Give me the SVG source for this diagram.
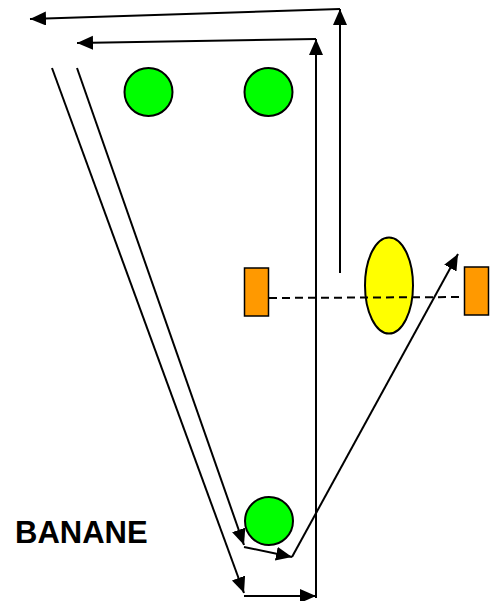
<svg xmlns="http://www.w3.org/2000/svg" width="492" height="601" viewBox="0 0 492 601">
<style>
.c{fill:#00ff00;stroke:#000;stroke-width:2}
.r{fill:#ff9900;stroke:#000;stroke-width:1.5}
.e{fill:#ffff00;stroke:#000;stroke-width:2}
.l{fill:none;stroke:#000;stroke-width:2;marker-end:url(#a)}
.d{fill:none;stroke:#000;stroke-width:2;stroke-dasharray:8 5}
.t{font-family:"Liberation Sans",Arial,sans-serif;font-weight:bold;font-size:31px;fill:#000}
</style>
<defs>
<marker id="a" markerUnits="userSpaceOnUse" markerWidth="18" markerHeight="16" refX="16" refY="7" orient="auto">
<path d="M0,0 L16,7 L0,14 Z" fill="#000"/>
</marker>
</defs>
<rect width="492" height="601" fill="#fff"/>
<g id="n-circle1"><circle class="c" cx="148.5" cy="92" r="24"/></g>
<g id="n-circle2"><circle class="c" cx="268.5" cy="92" r="24"/></g>
<g id="n-circle3"><circle class="c" cx="269" cy="521" r="24"/></g>
<g id="n-rect-left"><rect class="r" x="244.5" y="268" width="24" height="48"/></g>
<g id="n-ellipse"><ellipse class="e" cx="389" cy="285.5" rx="24" ry="48"/></g>
<g id="n-rect-right"><rect class="r" x="464.5" y="267" width="24" height="48"/></g>
<g id="n-label"><text class="t" x="15" y="543">BANANE</text></g>
<g id="connectors">
<line class="d" x1="269" y1="298" x2="464" y2="297"/>
<line class="l" x1="340" y1="273" x2="340" y2="9"/>
<line class="l" x1="340" y1="9" x2="30" y2="19"/>
<line class="l" x1="316" y1="598" x2="316" y2="39"/>
<line class="l" x1="316" y1="39" x2="77" y2="43"/>
<line class="l" x1="77" y1="68" x2="244" y2="545"/>
<line class="l" x1="244" y1="547" x2="292" y2="557"/>
<line class="l" x1="292" y1="557" x2="458" y2="254"/>
<line class="l" x1="52" y1="68" x2="244" y2="593"/>
<line class="l" x1="244" y1="596" x2="316" y2="596"/>
</g>
</svg>
